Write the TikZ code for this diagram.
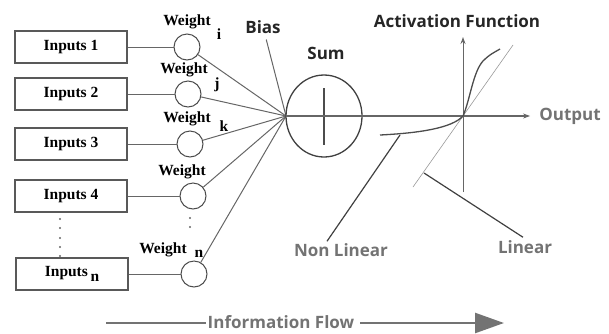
\documentclass[tikz,border=0pt]{standalone}
\usepackage{fontspec}
\setmainfont{Liberation Serif}
\newfontfamily\osans{Open Sans}
\usetikzlibrary{arrows.meta,shapes.geometric,calc}
\begin{document}
\begin{tikzpicture}[x=1pt,y=-1pt,
  inbox/.style={draw=black!65, line width=1.3pt, minimum width=112pt, minimum height=32pt, inner sep=0pt, font=\fontsize{15.5}{15.5}\selectfont\bfseries},
  wcirc/.style={circle, draw=black!70, line width=1pt, minimum size=26pt, inner sep=0pt},
  wlab/.style={font=\fontsize{15.5}{15.5}\selectfont\bfseries, inner sep=0pt},
  conn/.style={draw=black!60, line width=1pt},
  sanslab/.style={font=\osans\bfseries\fontsize{17}{17}\selectfont, inner sep=0pt, text=black!85},
  graylab/.style={sanslab, text=black!55},
  flow/.style={draw=black!55, line width=2.5pt},
  dotf/.style={fill=black!60, draw=none},
]
\useasboundingbox (0,0) rectangle (609,333);
% inputs
\node[inbox] (in1) at (71,47) {Inputs 1};
\node[inbox] (in2) at (71,94) {Inputs 2};
\node[inbox] (in3) at (71,144) {Inputs 3};
\node[inbox] (in4) at (71,196) {Inputs 4};
\node[inbox] (inn) at (72,274) {Inputs\,\raisebox{-5pt}{n}};
% weights
\node[wcirc] (w1) at (187,47) {};
\node[wcirc] (w2) at (188,94) {};
\node[wcirc] (w3) at (190,144) {};
\node[wcirc] (w4) at (193,196) {};
\node[wcirc] (wn) at (194,274) {};
\node[wlab] (wl1) at (187,22) {Weight};
\node[wlab] (wi) at (219,34) {i};
\node[wlab] (wl2) at (184,70) {Weight};
\node[wlab] (wj) at (217,85) {j};
\node[wlab] (wl3) at (187,119) {Weight};
\node[wlab] (wk) at (224,126) {k};
\node[wlab] (wl4) at (182,172) {Weight};
\node[wlab] (wl5) at (163,250) {Weight};
\node[wlab] (wnn) at (199,254) {n};
% input-weight connectors
\draw[conn] (in1) -- (w1);
\draw[conn] (in2) -- (w2);
\draw[conn] (in3) -- (w3);
\draw[conn] (in4) -- (w4);
\draw[conn] (inn) -- (wn);
% dots
\foreach \yy in {219,228,238,247,256} \fill[dotf] (60,\yy) circle (1.1);
\foreach \yy in {218,227} \fill[dotf] (190,\yy) circle (1.1);
% convergence
\coordinate (cv) at (286,116);
\draw[conn] (w1) -- (cv);
\draw[conn] (w2) -- (cv);
\draw[conn] (w3) -- (cv);
\draw[conn] (w4) -- (cv);
\draw[conn] (wn) -- (cv);
\node[sanslab] (bias) at (263,27) {Bias};
\draw[conn, shorten <=6pt] (bias) -- (cv);
% sum
\node[ellipse, draw=black!75, line width=1.3pt, minimum width=76pt, minimum height=82pt, inner sep=0pt] (sum) at (324,116) {};
\node[sanslab] (sumlab) at (326,53) {Sum};
\draw[black!70, line width=1.5pt] ($(sum.center)+(0,-28)$) -- ($(sum.center)+(0,29)$);
% activation graph
\node[graylab] (out) at (570,116) {Output};
\draw[conn, line width=1.2pt, -{Stealth[length=7pt,width=5pt]}, shorten >=9pt] (cv) -- (out.west);
\coordinate (ytop) at (463,37);
\coordinate (ybot) at (463,192);
\draw[conn, -{Stealth[length=7pt,width=5pt]}] (ybot) -- (ytop);
\node[sanslab] (act) at (457,21) {Activation Function};
\draw[black!40, line width=0.6pt] (513,45) -- (413,187);
\draw[black!70, line width=1.3pt] (380,135) .. controls (420,133) and (452,128) .. (463,116)
  .. controls (470,100) and (473,72) .. (483,61) .. controls (490,54) and (495,52) .. (500,49);
\node[graylab] (nl) at (341,250) {Non Linear};
\node[graylab] (lin) at (525,247) {Linear};
\coordinate (nlp) at (400,135);
\coordinate (lp) at (424,173);
\draw[black!75, line width=1.2pt] (nlp) -- ($(nl.north)+(-14,-2)$);
\draw[black!75, line width=1.2pt] (lp) -- ($(lin.north)+(-2,-3)$);
% information flow
\node[graylab] (info) at (281,322) {Information Flow};
\coordinate (fs) at (106,323);
\coordinate (fe) at (504,323);
\draw[flow] (fs) -- ($(info.west)+(-2,1)$);
\draw[flow, -{Triangle[length=29pt,width=20pt]}] ($(info.east)+(6,1)$) -- (fe);
\end{tikzpicture}
\end{document}
